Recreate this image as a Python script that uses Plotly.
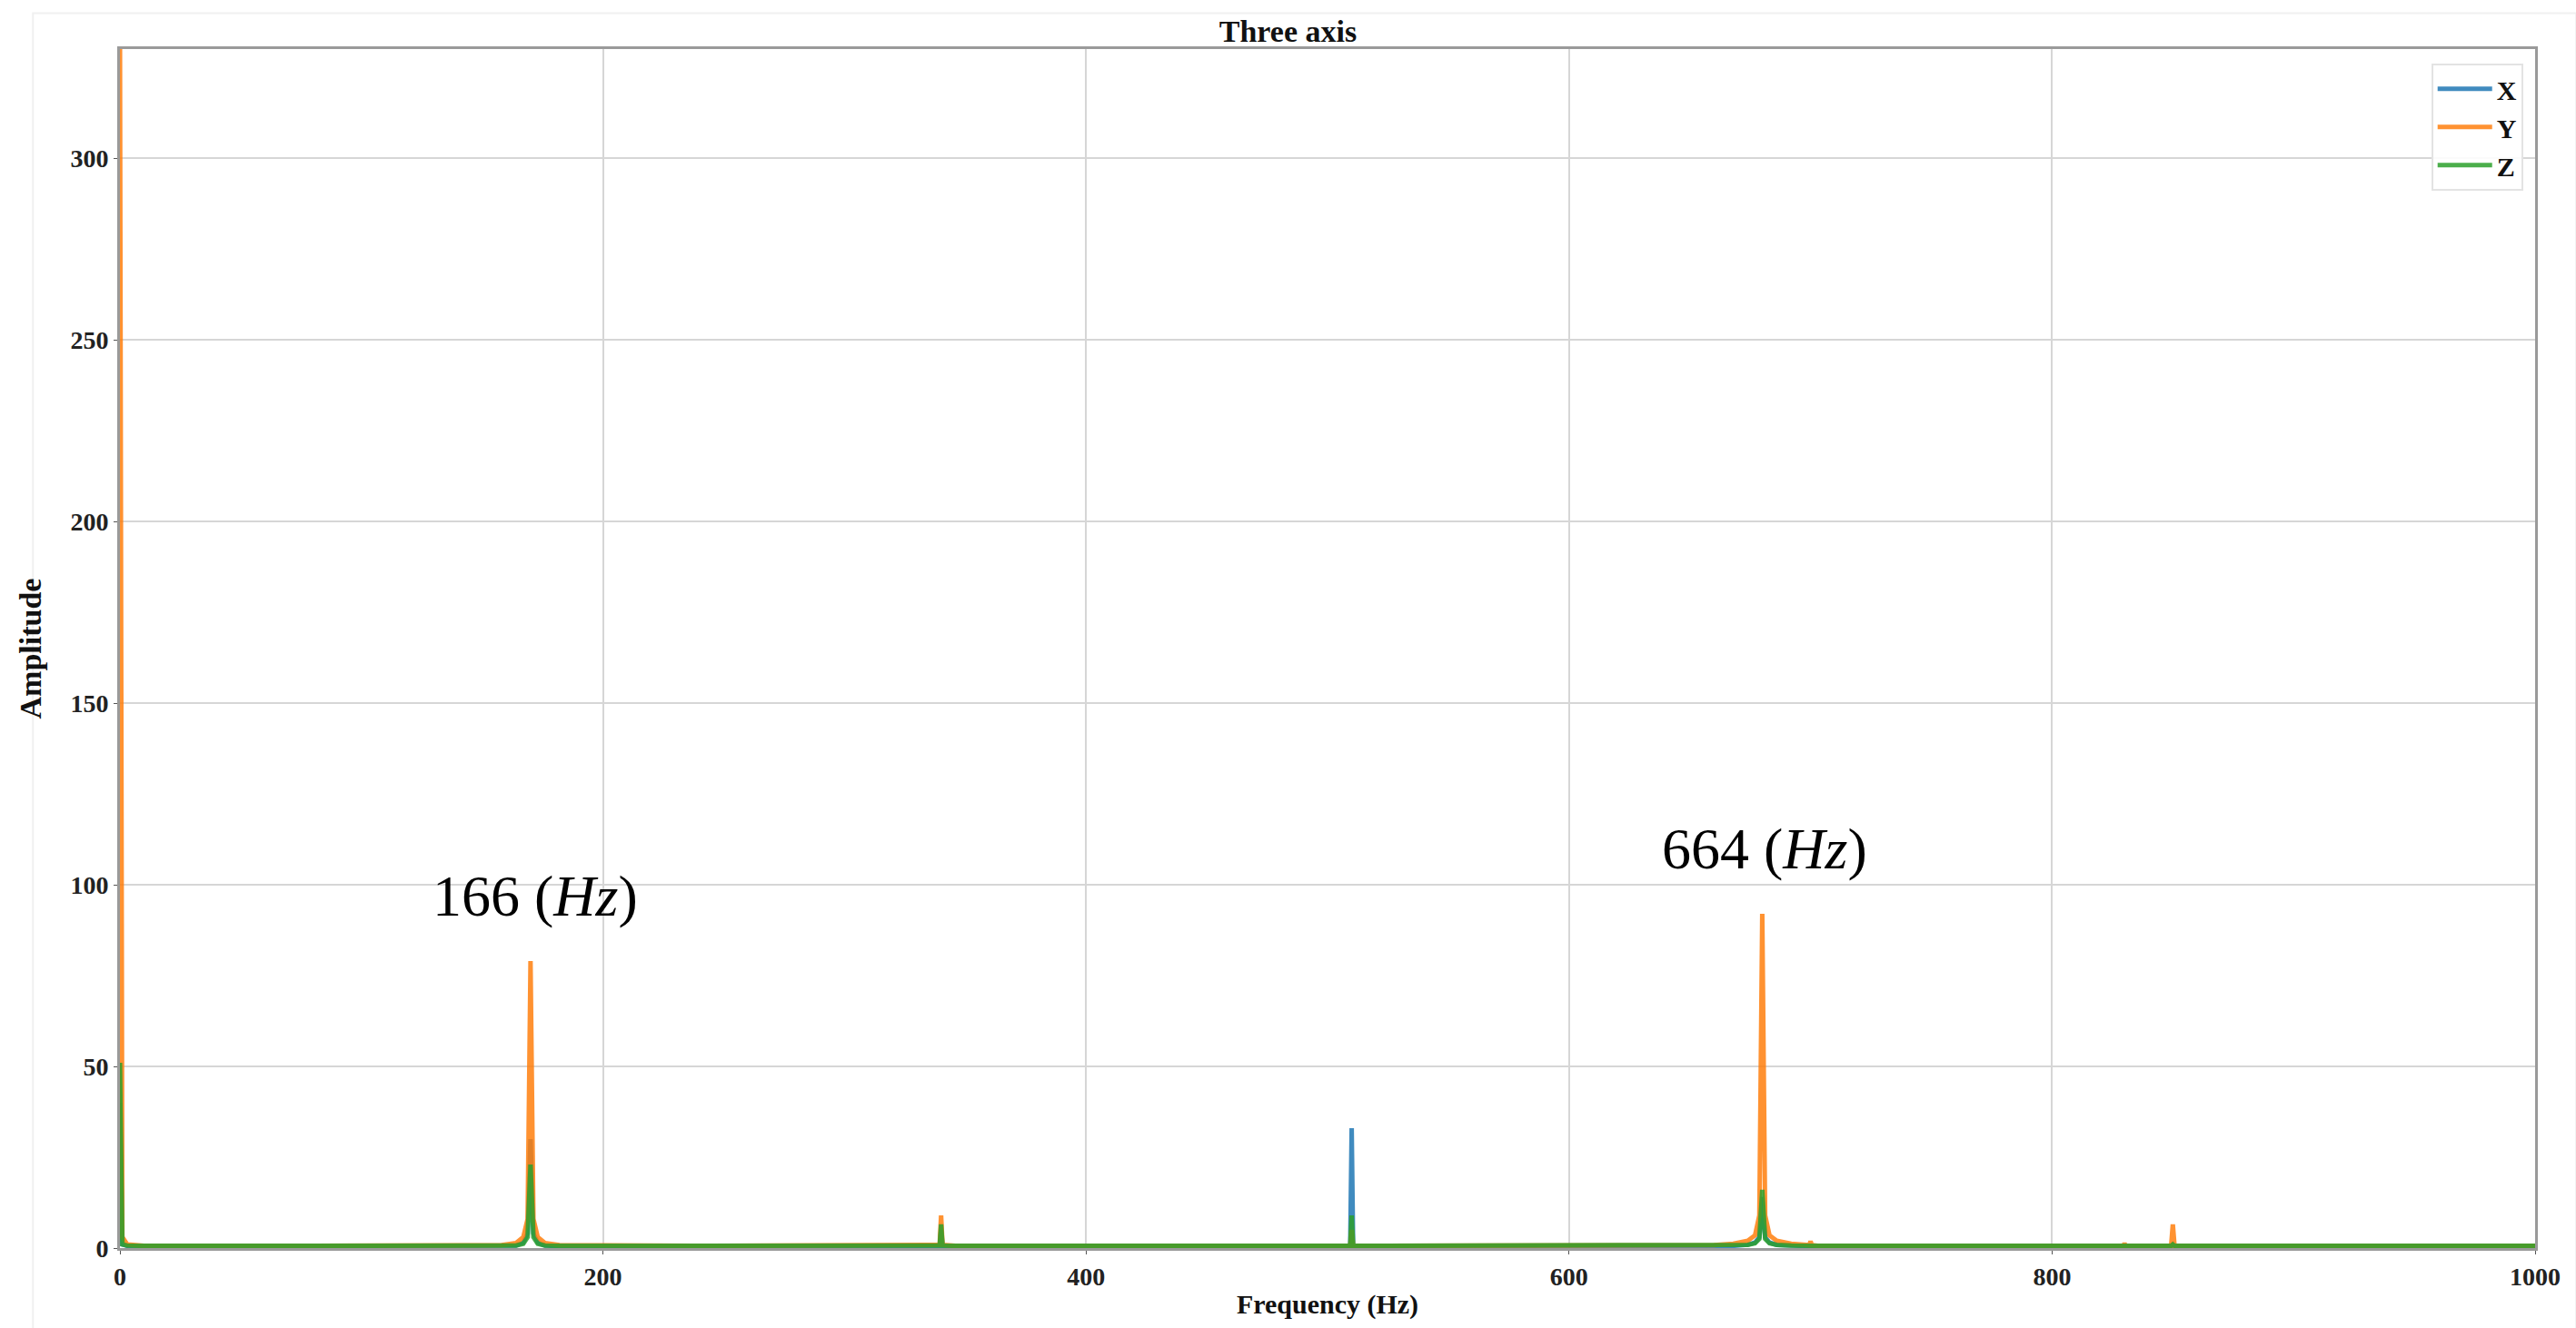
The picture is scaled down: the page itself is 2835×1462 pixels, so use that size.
import plotly.graph_objects as go

# frequency grid (Hz) shared by the three axes
freq_hz = [
    0, 1, 3, 10, 80, 150,
    158, 164, 167, 168.8, 170, 171.2, 173, 176, 182,
    250, 334, 339.4, 340, 340.6, 346,
    430, 504, 509.4, 510, 510.6, 516,
    600, 660, 668, 674, 677, 678.8, 680, 681.2, 683, 686, 692,
    697, 699.5, 700, 700.5, 703,
    780, 826, 829.5, 830, 830.5, 834,
    844, 849.3, 850, 850.7, 856,
    930, 1000,
]

amp_x = [
    40, 1, 0.6, 0.5, 0.5, 0.5,
    0.5, 0.7, 1.5, 4, 30, 4, 1.5, 0.7, 0.5,
    0.5, 0.5, 0.6, 5, 0.6, 0.5,
    0.5, 0.5, 0.7, 33, 0.7, 0.5,
    0.5, 0.5, 0.6, 0.9, 1.5, 3, 14, 3, 1.5, 0.9, 0.6,
    0.5, 0.5, 0.6, 0.5, 0.5,
    0.5, 0.5, 0.5, 0.6, 0.5, 0.5,
    0.5, 0.5, 1, 0.5, 0.5,
    0.5, 0.5,
]

amp_y = [
    335, 3, 1, 0.6, 0.6, 0.6,
    0.8, 1.4, 3, 8, 79, 8, 3, 1.4, 0.8,
    0.6, 0.6, 0.9, 9, 0.9, 0.6,
    0.6, 0.6, 0.7, 5, 0.7, 0.6,
    0.6, 0.8, 1.2, 2, 3.5, 9, 92, 9, 3.5, 2, 1.2,
    0.8, 0.8, 1.9, 0.8, 0.6,
    0.6, 0.6, 0.6, 1.3, 0.6, 0.6,
    0.6, 0.7, 6.5, 0.7, 0.6,
    0.6, 0.6,
]

amp_z = [
    51, 1, 0.7, 0.6, 0.6, 0.6,
    0.6, 0.7, 1.2, 3, 23, 3, 1.2, 0.7, 0.6,
    0.6, 0.6, 0.7, 6.5, 0.7, 0.6,
    0.6, 0.6, 0.7, 9, 0.7, 0.6,
    0.6, 0.6, 0.7, 0.9, 1.3, 2.5, 16, 2.5, 1.3, 0.9, 0.7,
    0.6, 0.6, 0.7, 0.6, 0.6,
    0.6, 0.6, 0.6, 0.7, 0.6, 0.6,
    0.6, 0.6, 1, 0.6, 0.6,
    0.6, 0.6,
]

series = [('X', amp_x, '#1f77b4'), ('Y', amp_y, '#ff7f0e'), ('Z', amp_z, '#2ca02c')]

peak_labels = ['166 (<i>Hz</i>)', '664 (<i>Hz</i>)']
peak_label_x = [172, 681]
peak_label_y = [97, 110]

serif = 'Liberation Serif, Times New Roman, serif'

fig = go.Figure()
for name, amp, color in series:
    fig.add_trace(go.Scatter(
        x=freq_hz, y=amp, name=name, mode='lines',
        line=dict(color=color, width=5), opacity=0.85,
    ))

for txt, ax, ay in zip(peak_labels, peak_label_x, peak_label_y):
    fig.add_annotation(
        x=ax, y=ay, text=txt, showarrow=False,
        font=dict(family=serif, size=64, color='black'),
    )

# faint outer frame of the original figure
fig.add_shape(type='rect', xref='paper', yref='paper',
              x0=-0.036, x1=1.017, y0=-0.092, y1=1.03,
              line=dict(color='#f0f0f0', width=2))

axis_common = dict(
    showgrid=True, gridcolor='#d6d6d6', gridwidth=2,
    showline=True, linecolor='#9a9a9a', linewidth=3, mirror=True,
    ticks='outside', ticklen=4, tickcolor='#555555',
    tickfont=dict(family=serif, size=28, color='#222222', weight='bold'),
    zeroline=False,
)

fig.update_layout(
    width=2835, height=1462,
    paper_bgcolor='white', plot_bgcolor='white',
    margin=dict(l=132, r=45, t=54, b=88),
    title=dict(text='Three axis', x=0.5, xanchor='center', y=0.977, yanchor='middle',
               font=dict(family=serif, size=34, color='#111111', weight='bold')),
    xaxis=dict(range=[0, 1000], dtick=200,
               title=dict(text='Frequency (Hz)', standoff=6,
                          font=dict(family=serif, size=30, color='#111111', weight='bold')),
               **axis_common),
    yaxis=dict(range=[0, 330], dtick=50,
               title=dict(text='Amplitude', standoff=22,
                          font=dict(family=serif, size=34, color='#111111', weight='bold')),
               **axis_common),
    legend=dict(x=0.995, y=0.988, xanchor='right', yanchor='top',
                bgcolor='rgba(255,255,255,0.9)', bordercolor='#e3e3e3', borderwidth=2,
                itemwidth=60, tracegroupgap=0,
                font=dict(family=serif, size=30, color='#111111', weight='bold')),
    showlegend=True,
)

fig.write_html('out.html', config={'displayModeBar': False},
               post_script="document.body.style.margin='0';document.body.style.overflow='hidden';")
